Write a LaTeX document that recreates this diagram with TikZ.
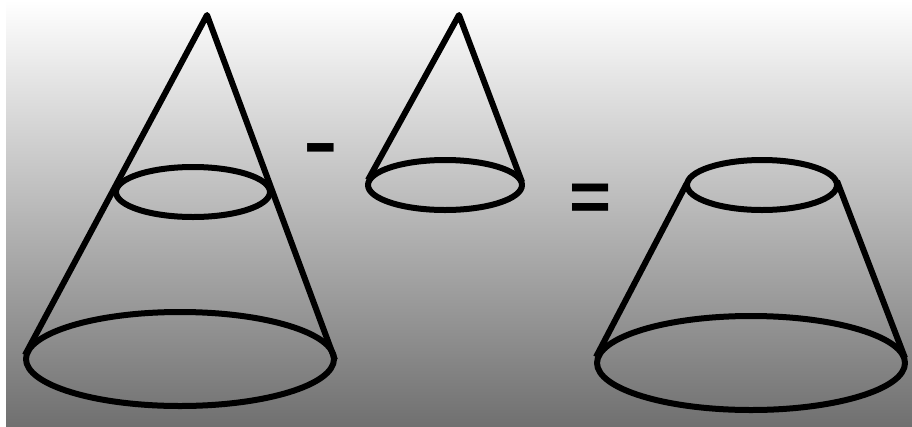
\documentclass[tikz,border=0pt]{standalone}
\usepackage{fontspec}
\setmainfont{Liberation Sans}
\usetikzlibrary{positioning, calc}
\definecolor{conegray}{HTML}{707070}

\begin{document}
\begin{tikzpicture}[
    x=1pt, y=-1pt,
    cone/.style={draw=black, line width=6pt, line join=round},
    sign/.style={font=\fontsize{72}{72}\selectfont\bfseries, inner sep=0pt, text=black}
]
    \useasboundingbox (0,0) rectangle (912,426);
    \shade[top color=white, bottom color=conegray, shading angle=0] (6,0) rectangle (912,426);

    % whole cone
    \coordinate (bigapex) at (207,15);
    \coordinate (bigleft) at (25,355);
    \coordinate (bigright) at (335,360);
    \draw[cone] (180,359) ellipse (154 and 47);
    \draw[cone] (193,192) ellipse (77 and 25);
    \draw[cone] (bigleft) -- (bigapex) -- (bigright);

    % small cone
    \coordinate (smallapex) at (459,15);
    \coordinate (smallleft) at (368,180);
    \coordinate (smallright) at (522,182);
    \draw[cone] (445,185) ellipse (77 and 25);
    \draw[cone] (smallleft) -- (smallapex) -- (smallright);

    % frustum
    \coordinate (topleft) at (687,183);
    \coordinate (topright) at (837,181);
    \coordinate (baseleft) at (596,357);
    \coordinate (baseright) at (905,358);
    \draw[cone] (762,185) ellipse (75 and 25);
    \draw[cone] (751,363) ellipse (154 and 47);
    \draw[cone] (topleft) -- (baseleft);
    \draw[cone] (topright) -- (baseright);

    \node[sign, xscale=1.45] (minus) at (321,155) {-};
    \node[sign] (equals) at (591,203) {=};
\end{tikzpicture}
\end{document}
